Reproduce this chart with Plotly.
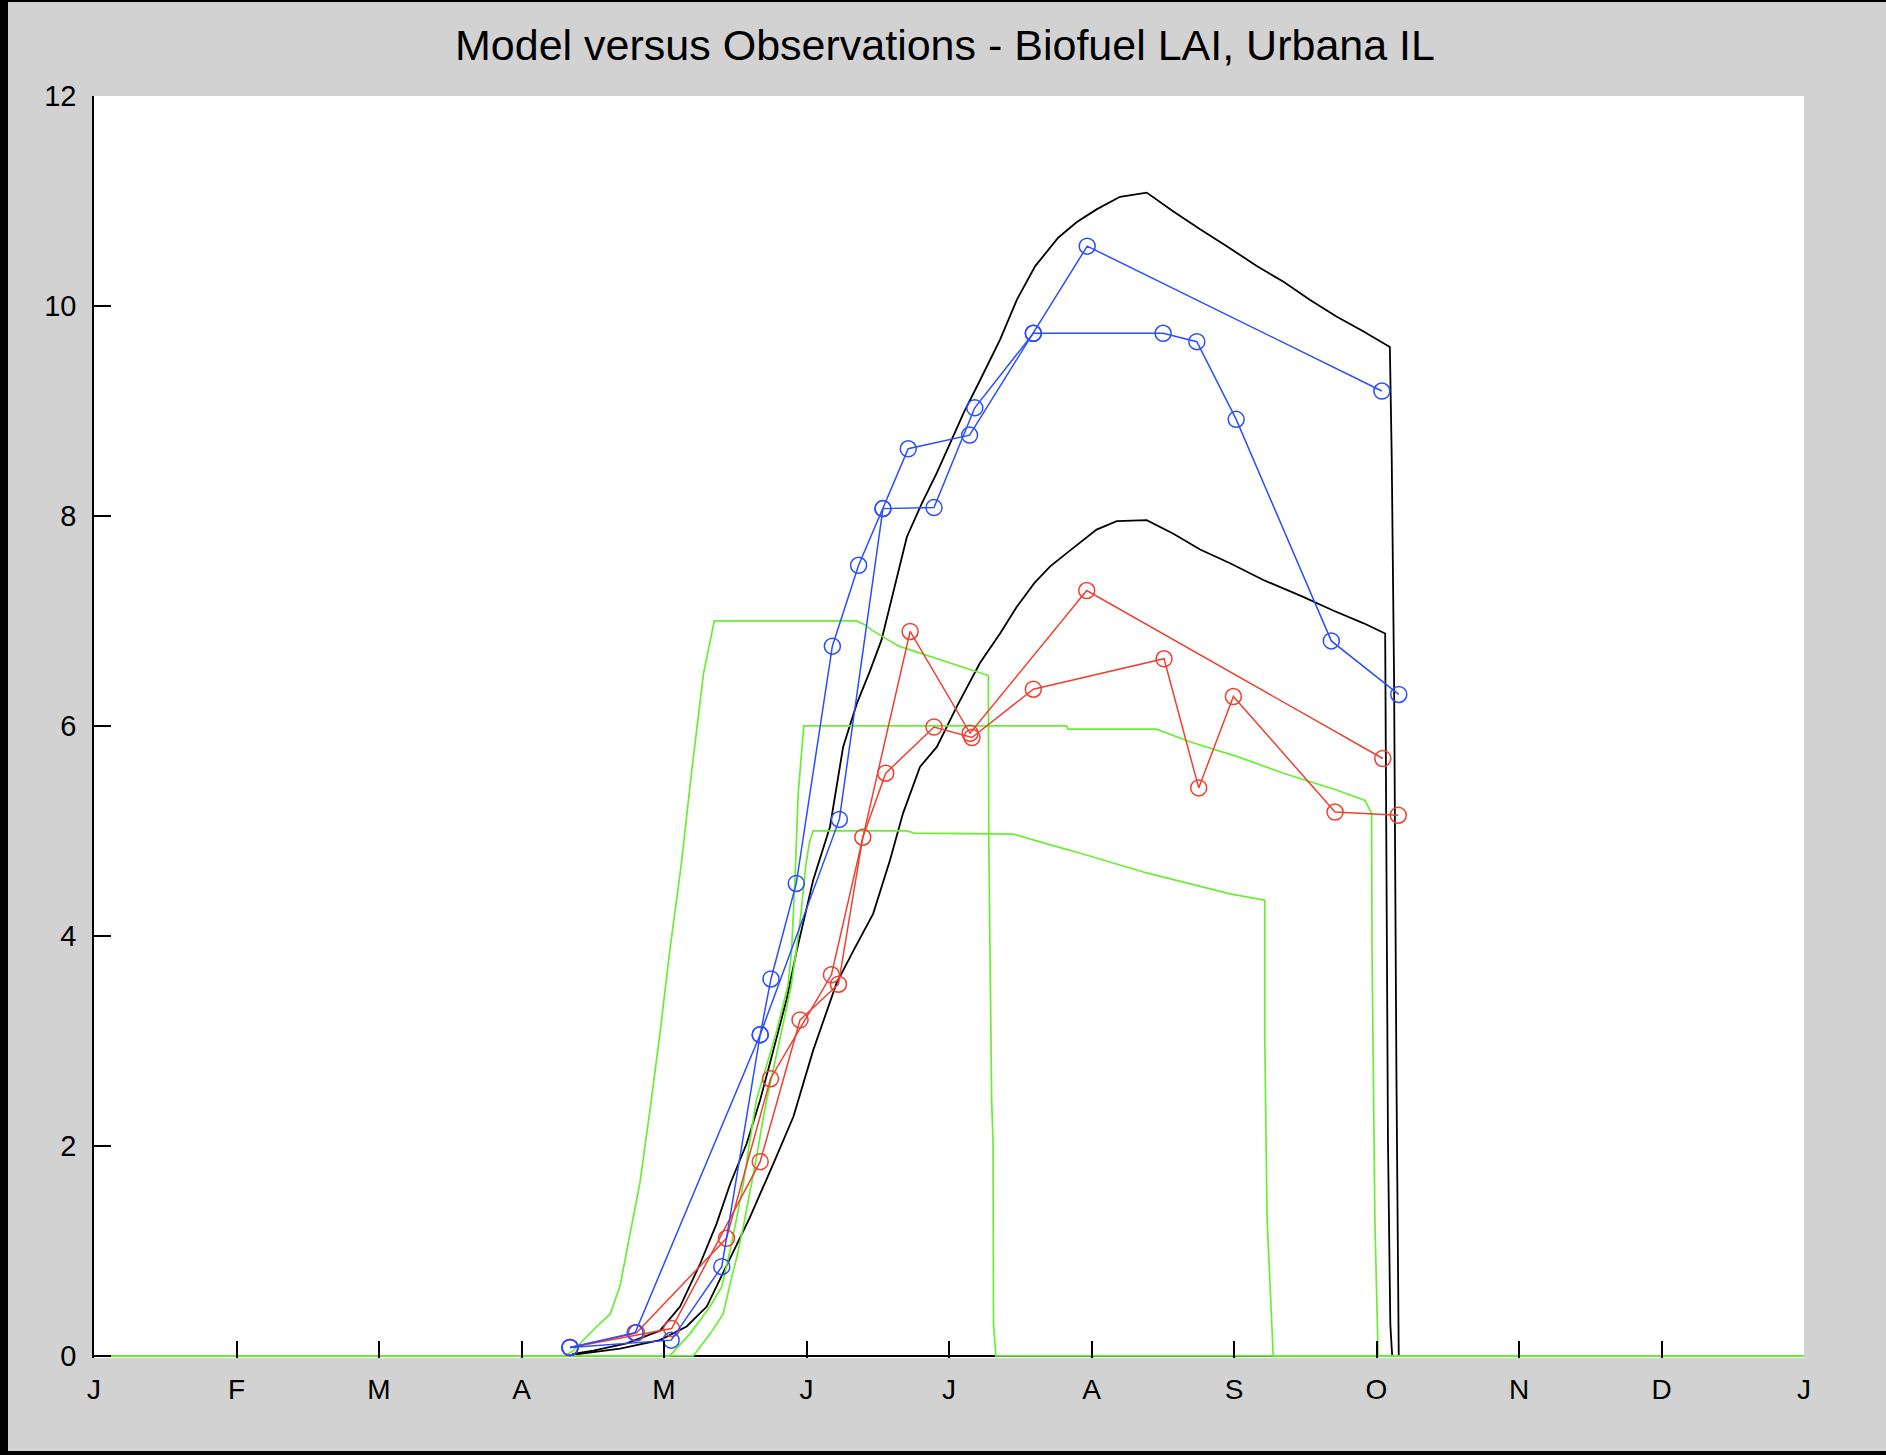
import plotly.graph_objects as go

# ---------------- data (day of year, LAI) ----------------
month_labels = ["J", "F", "M", "A", "M", "J", "J", "A", "S", "O", "N", "D", "J"]
lai_ticks = [0, 2, 4, 6, 8, 10, 12]

# model curves (black)
model1_doy = [0, 101.6, 102.3, 106.6, 113.7, 120.8, 125.1, 129.4, 132.9, 135.8, 139.3, 142.2, 145.0,
              147.8, 150.0, 153.5, 157.1, 159.9, 162.8, 165.6, 168.1, 169.9, 172.0, 173.5, 176.7,
              179.9, 182.7, 185.6, 189.1, 193.4, 197.0, 200.9, 205.8, 209.8, 214.0, 219.0, 224.7,
              230.4, 236.1, 241.8, 248.2, 253.9, 259.5, 265.2, 270.9, 276.6, 277.0, 277.5, 278.0,
              278.5, 365]
model1_lai = [0, 0, 0.02, 0.05, 0.12, 0.24, 0.47, 0.88, 1.26, 1.64, 2.02, 2.44, 2.91,
              3.39, 3.86, 4.53, 5.04, 5.80, 6.21, 6.52, 6.82, 7.14, 7.52, 7.80, 8.12,
              8.41, 8.69, 8.98, 9.29, 9.68, 10.06, 10.38, 10.65, 10.80, 10.92, 11.04, 11.08,
              10.90, 10.73, 10.57, 10.38, 10.23, 10.06, 9.90, 9.76, 9.61, 8.55, 6.45, 2.70,
              0, 0]

model2_doy = [0, 101.6, 103.7, 112.3, 120.8, 126.5, 130.8, 135.8, 140.0, 145.0, 149.3, 153.5,
              158.5, 162.1, 166.3, 169.9, 172.7, 176.3, 179.9, 184.1, 189.1, 193.4, 196.9,
              200.7, 204.1, 208.3, 214.0, 218.3, 224.7, 230.4, 236.1, 242.5, 249.6, 258.1,
              264.5, 270.9, 275.6, 275.8, 276.2, 276.7, 277.1, 365]
model2_lai = [0, 0, 0.02, 0.07, 0.15, 0.28, 0.47, 0.94, 1.32, 1.83, 2.28, 2.91,
              3.55, 3.86, 4.21, 4.72, 5.17, 5.61, 5.80, 6.18, 6.60, 6.88, 7.13,
              7.36, 7.52, 7.67, 7.87, 7.95, 7.96, 7.83, 7.68, 7.55, 7.39, 7.23,
              7.10, 6.98, 6.88, 5.27, 2.04, 0.30, 0, 0]

# green curves
green1_doy = [0, 100.5, 102.3, 107.3, 110.2, 112.3, 114.4, 116.5, 118.7, 120.8, 122.9, 125.3,
              127.6, 130.1, 132.4, 162.8, 164.7, 166.1, 171.8, 186.3, 190.9, 191.0, 191.6,
              191.9, 192.0, 192.5, 365]
green1_lai = [0, 0, 0.05, 0.28, 0.40, 0.67, 1.16, 1.64, 2.35, 3.07, 3.86, 4.66,
              5.58, 6.50, 7.00, 7.00, 6.96, 6.91, 6.76, 6.55, 6.48, 4.89, 2.44,
              2.03, 0.31, 0, 0]

green2_doy = [0, 122.9, 127.2, 131.5, 134.0, 135.8, 137.2, 138.6, 140.0, 141.4, 145.5, 148.1,
              148.9, 149.6, 150.3, 151.5, 207.6, 207.9, 226.8, 233.9, 243.9, 253.9, 265.2,
              271.3, 272.7, 272.8, 273.4, 274.1, 365]
green2_lai = [0, 0, 0.21, 0.47, 0.66, 1.01, 1.32, 1.64, 2.05, 2.44, 3.06, 3.52,
              3.86, 4.52, 5.35, 6.00, 6.00, 5.97, 5.97, 5.85, 5.71, 5.55, 5.39,
              5.29, 5.17, 3.87, 1.30, 0, 0]

green3_doy = [0, 127.9, 131.5, 134.3, 135.8, 137.2, 138.6, 140.0, 141.4, 142.9, 143.6, 146.6,
              148.8, 149.9, 150.9, 151.9, 152.7, 153.5, 173.5, 175.1, 196.2, 204.7, 210.4,
              224.7, 242.5, 249.9, 249.9, 250.4, 251.2, 251.7, 365]
green3_lai = [0, 0, 0.21, 0.40, 0.69, 0.94, 1.23, 1.55, 1.89, 2.28, 2.44, 3.06,
              3.52, 3.86, 4.21, 4.66, 4.89, 5.00, 5.00, 4.98, 4.97, 4.86, 4.79,
              4.60, 4.40, 4.34, 3.04, 1.30, 0.43, 0, 0]

# observations (blue)
obs_blue1_doy = [101.6, 115.5, 142.2, 144.5, 149.9, 157.6, 163.2, 168.4, 173.8, 186.9, 200.5, 212.0, 274.9]
obs_blue1_lai = [0.08, 0.22, 3.06, 3.59, 4.50, 6.76, 7.53, 8.07, 8.64, 8.77, 9.74, 10.57, 9.19]

obs_blue2_doy = [101.6, 123.2, 134.0, 142.2, 159.1, 168.4, 179.3, 188.0, 200.5, 228.2, 235.4, 243.8, 264.1, 278.5]
obs_blue2_lai = [0.08, 0.15, 0.85, 3.06, 5.11, 8.07, 8.08, 9.03, 9.74, 9.74, 9.66, 8.92, 6.81, 6.30]

# observations (red)
obs_red1_doy = [101.6, 115.8, 135.0, 144.4, 157.4, 174.2, 187.0, 211.9, 275.1]
obs_red1_lai = [0.08, 0.22, 1.12, 2.64, 3.63, 6.90, 5.93, 7.29, 5.69]

obs_red2_doy = [101.6, 123.3, 142.2, 150.7, 158.9, 164.1, 169.0, 179.3, 187.4, 200.5, 228.4, 235.8, 243.2, 264.9, 278.4]
obs_red2_lai = [0.08, 0.26, 1.85, 3.20, 3.54, 4.94, 5.55, 5.99, 5.89, 6.35, 6.64, 5.41, 6.28, 5.18, 5.15]

# ---------------- styling ----------------
W, H = 1886, 1455
ML, MR, MT, MB = 94, 82, 96, 97
Y_MIN = -0.02
BG = "#d2d2d2"
BLACK = "#000000"
BLUE = "#2a4dff"
RED = "#ee4030"
GREEN = "#6aee34"
FONT = "Liberation Sans, Arial, Helvetica, sans-serif"

fig = go.Figure()

for xs, ys in [(model1_doy, model1_lai), (model2_doy, model2_lai)]:
    fig.add_trace(go.Scatter(x=xs, y=ys, mode="lines",
                             line=dict(color=BLACK, width=1.8), hoverinfo="skip"))

for xs, ys in [(green1_doy, green1_lai), (green2_doy, green2_lai), (green3_doy, green3_lai)]:
    fig.add_trace(go.Scatter(x=xs, y=ys, mode="lines",
                             line=dict(color=GREEN, width=1.7), hoverinfo="skip"))

for xs, ys, col in [(obs_red1_doy, obs_red1_lai, RED), (obs_red2_doy, obs_red2_lai, RED),
                    (obs_blue1_doy, obs_blue1_lai, BLUE), (obs_blue2_doy, obs_blue2_lai, BLUE)]:
    fig.add_trace(go.Scatter(x=xs, y=ys, mode="lines+markers",
                             line=dict(color=col, width=1.5),
                             marker=dict(symbol="circle-open", size=16,
                                         line=dict(color=col, width=1.5)),
                             hoverinfo="skip"))

pw = W - ML - MR
ph = H - MT - MB


def px_x(p):
    return (p - ML) / pw


def px_y(p):
    return (H - MB - p) / ph


shapes = [
    # bottom axis line (under the traces)
    dict(type="line", xref="x", yref="y", x0=0, x1=365, y0=0, y1=0,
         layer="below", line=dict(color=BLACK, width=2)),
    # dark frame edges of the window
    dict(type="rect", xref="paper", yref="paper", x0=px_x(0), x1=px_x(8),
         y0=px_y(0), y1=px_y(H), fillcolor=BLACK, line=dict(width=0), layer="above"),
    dict(type="rect", xref="paper", yref="paper", x0=px_x(0), x1=px_x(W),
         y0=px_y(0), y1=px_y(2), fillcolor=BLACK, line=dict(width=0), layer="above"),
    dict(type="rect", xref="paper", yref="paper", x0=px_x(0), x1=px_x(W),
         y0=px_y(1451), y1=px_y(H), fillcolor=BLACK, line=dict(width=0), layer="above"),
]

fig.update_layout(
    width=W, height=H,
    margin=dict(l=ML, r=MR, t=MT, b=MB, pad=0),
    paper_bgcolor=BG, plot_bgcolor="white",
    showlegend=False,
    font=dict(family=FONT, color=BLACK),
    title=dict(text="Model versus Observations - Biofuel LAI, Urbana IL",
               x=(945 - ML) / pw, xref="paper", xanchor="center",
               y=1 - 44.5 / H, yref="container", yanchor="middle",
               font=dict(size=43, family=FONT, color=BLACK)),
    shapes=shapes,
)

fig.update_xaxes(
    range=[0, 365],
    tickmode="array",
    tickvals=[i * 365 / 12 for i in range(13)],
    ticktext=month_labels,
    ticks="inside", ticklen=17, tickwidth=1.5, tickcolor=BLACK,
    showline=False, showgrid=False, zeroline=False,
    tickfont=dict(size=28, family=FONT, color=BLACK),
    ticklabelstandoff=12,
)
fig.update_yaxes(
    range=[Y_MIN, 12],
    tickmode="array",
    tickvals=lai_ticks,
    ticktext=[str(v) for v in lai_ticks],
    ticks="inside", ticklen=17, tickwidth=1.5, tickcolor=BLACK,
    showline=True, linecolor=BLACK, linewidth=1.5,
    showgrid=False, zeroline=False,
    tickfont=dict(size=29, family=FONT, color=BLACK),
    ticklabelstandoff=10,
)

fig.write_html("out.html", config={"displayModeBar": False})
